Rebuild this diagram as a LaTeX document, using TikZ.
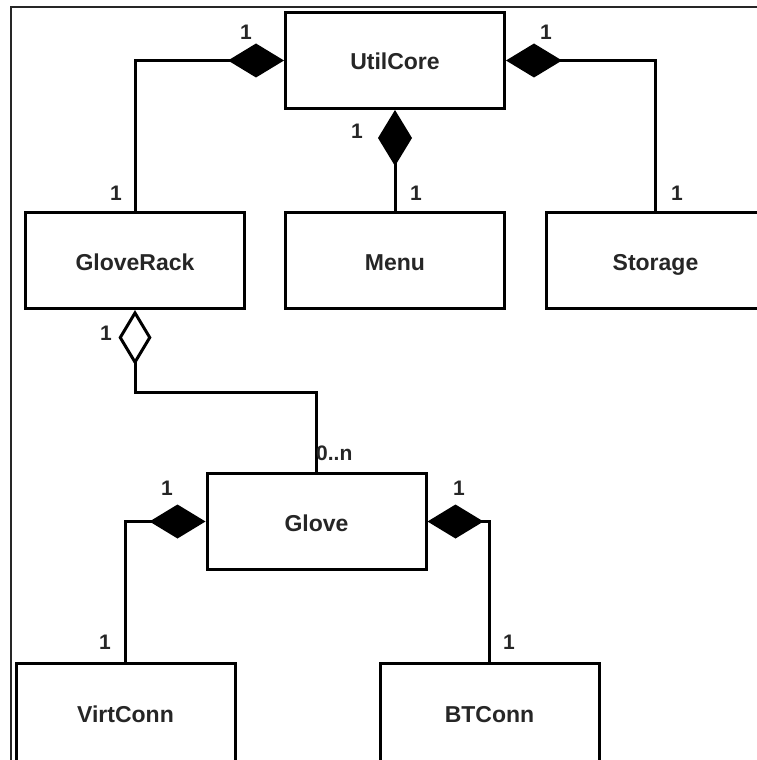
\documentclass[tikz,border=0pt]{standalone}
\usepackage{fontspec}
\setmainfont{Liberation Sans}
\usetikzlibrary{arrows.meta}
\definecolor{txt}{HTML}{262626}
\tikzset{
  cls/.style={draw=black, line width=3pt, fill=white, minimum width=219pt, minimum height=96pt,
    inner sep=0pt, text height=19pt, text depth=0pt,
    font=\fontsize{23}{27}\selectfont\bfseries, text=txt},
  conn/.style={line width=3pt, draw=black},
  comp/.style={conn, {Diamond[length=56pt, width=34pt, fill=black, line join=miter]}-},
  aggr/.style={conn, {Diamond[open, length=55pt, width=33pt, fill=white, line join=miter]}-},
  mult/.style={inner sep=0pt, font=\fontsize{21}{24}\selectfont\bfseries, text=txt}
}
\begin{document}
\begin{tikzpicture}[x=1pt, y=-1pt]
\useasboundingbox (0,0) rectangle (757,760);
\clip (0,0) rectangle (757,760);
\draw[line width=1.6pt, black!85] (11,762) -- (11,7) -- (760,7);

\node[cls] (util)    at (395,60.5)  {UtilCore};
\node[cls] (grack)   at (135,260.5) {GloveRack};
\node[cls] (menu)    at (395,260.5) {Menu};
\node[cls] (storage) at (655.5,260.5) {Storage};
\node[cls] (glove)   at (316.5,521.5) {Glove};
\node[cls, minimum height=100pt] (virt) at (125.5,713) {VirtConn};
\node[cls, minimum height=100pt] (bt)   at (489.5,713) {BTConn};

\coordinate (aggbend) at (135,392);

\draw[comp] (util.west) -| (grack.north);
\draw[comp] (util.south) -- (menu.north);
\draw[comp] (util.east) -| (storage.north);
\draw[aggr] (grack.south) -- (aggbend) -| (glove.north);
\draw[comp] (glove.west) -| (virt.north);
\draw[comp] (glove.east) -| (bt.north);

\node[mult] (m1) at (246,32)  {1};
\node[mult] (m2) at (116,193) {1};
\node[mult] (m3) at (357,131) {1};
\node[mult] (m4) at (416,193) {1};
\node[mult] (m5) at (546,32)  {1};
\node[mult] (m6) at (677,193) {1};
\node[mult] (m7) at (106,333) {1};
\node[mult, anchor=west] (m8) at (316,453) {0..n};
\node[mult] (m9)  at (167,488) {1};
\node[mult] (m10) at (105,642) {1};
\node[mult] (m11) at (459,488) {1};
\node[mult] (m12) at (509,642) {1};
\end{tikzpicture}
\end{document}
